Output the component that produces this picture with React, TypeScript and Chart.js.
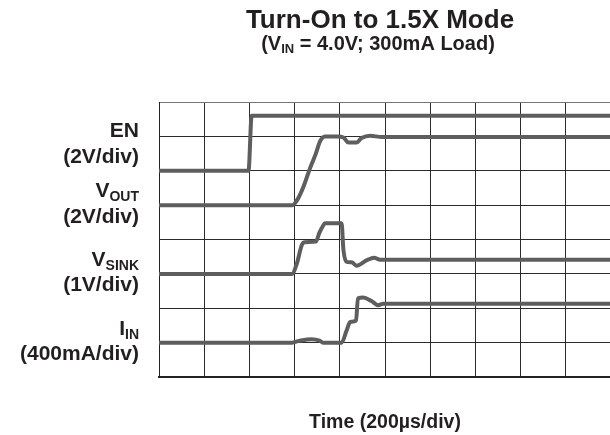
import { useEffect, useRef } from 'react';
import { Chart, registerables } from 'chart.js';

Chart.register(...registerables);

// Time axis in divisions (200 µs/div), 10 divisions
const X_MIN = 0;
const X_MAX = 10;
// Vertical axis in divisions, 8 divisions
const Y_MIN = 0;
const Y_MAX = 8;

// EN trace (divisions)
const EN_T = [0, 1.98, 2.05, 10];
const EN_V = [6.0, 6.0, 7.6, 7.6];

// VOUT trace
const VOUT_T = [0, 2.95, 3.08, 3.2, 3.34, 3.47, 3.56, 3.67, 3.95, 4.08, 4.19, 4.37, 4.48, 4.67, 4.93, 10];
const VOUT_V = [5.0, 5.0, 5.2, 5.55, 6.07, 6.5, 6.85, 7.0, 7.0, 6.97, 6.82, 6.82, 6.95, 7.02, 6.98, 6.98];

// VSINK trace
const VSINK_T = [0, 2.94, 3.05, 3.16, 3.22, 3.47, 3.55, 3.63, 3.67, 4.04, 4.08, 4.15, 4.26, 4.37, 4.6, 4.76, 4.89, 10];
const VSINK_V = [3.0, 3.0, 3.3, 3.84, 3.92, 3.94, 4.2, 4.4, 4.47, 4.47, 3.7, 3.35, 3.34, 3.24, 3.4, 3.47, 3.41, 3.41];

// IIN trace
const IIN_T = [0, 2.94, 3.1, 3.38, 3.55, 3.63, 4.04, 4.15, 4.23, 4.36, 4.4, 4.52, 4.7, 4.85, 4.96, 10];
const IIN_V = [1.0, 1.0, 1.05, 1.1, 1.06, 1.0, 1.0, 1.35, 1.6, 1.64, 2.29, 2.31, 2.21, 2.09, 2.13, 2.13];

// Text
const TITLE = 'Turn-On to 1.5X Mode';
const SUBTITLE = [
  { t: '(V', sub: false },
  { t: 'IN', sub: true },
  { t: ' = 4.0V; 300mA Load)', sub: false },
];
const X_LABEL = 'Time (200µs/div)';
const CHANNEL_NAMES = [
  [{ t: 'EN', sub: false }],
  [{ t: 'V', sub: false }, { t: 'OUT', sub: true }],
  [{ t: 'V', sub: false }, { t: 'SINK', sub: true }],
  [{ t: 'I', sub: false }, { t: 'IN', sub: true }],
];
const CHANNEL_SCALES = ['(2V/div)', '(2V/div)', '(1V/div)', '(400mA/div)'];

const FONT = "'Liberation Sans', Arial, Helvetica, sans-serif";
const TEXT_COLOR = '#231f20';
const TRACE_COLOR = '#5e5e5e';

const toPoints = (t: number[], v: number[]) => t.map((x, i) => ({ x, y: v[i] }));

type Seg = { t: string; sub: boolean };

function drawRich(
  ctx: CanvasRenderingContext2D,
  segs: Seg[],
  x: number,
  y: number,
  size: number,
  subSize: number,
  subDy: number,
  align: 'left' | 'right' | 'center'
) {
  const widths = segs.map((s) => {
    ctx.font = `bold ${s.sub ? subSize : size}px ${FONT}`;
    return ctx.measureText(s.t).width;
  });
  const total = widths.reduce((a, b) => a + b, 0);
  let cx = align === 'left' ? x : align === 'right' ? x - total : x - total / 2;
  ctx.textAlign = 'left';
  ctx.textBaseline = 'alphabetic';
  segs.forEach((s, i) => {
    ctx.font = `bold ${s.sub ? subSize : size}px ${FONT}`;
    ctx.fillText(s.t, cx, y + (s.sub ? subDy : 0));
    cx += widths[i];
  });
}

const textPlugin = {
  id: 'scopeText',
  afterDraw(chart: any) {
    const ctx: CanvasRenderingContext2D = chart.ctx;
    const area = chart.chartArea;
    const cx = (area.left + area.right) / 2;
    ctx.save();
    ctx.fillStyle = TEXT_COLOR;
    // Title
    ctx.font = `bold 26px ${FONT}`;
    ctx.textAlign = 'center';
    ctx.textBaseline = 'alphabetic';
    ctx.fillText(TITLE, cx - 5, 28);
    drawRich(ctx, SUBTITLE, cx - 7, 50, 20, 13, 3, 'center');
    // X label
    ctx.font = `bold 19.5px ${FONT}`;
    ctx.textAlign = 'center';
    ctx.fillText(X_LABEL, cx, 428);
    // Channel labels
    const nameY = [137, 197, 266, 335];
    const scaleY = [163, 223, 291, 360];
    const rx = 139;
    CHANNEL_NAMES.forEach((segs, i) => {
      drawRich(ctx, segs, rx, nameY[i], 21, 14, 4, 'right');
      ctx.font = `bold 21px ${FONT}`;
      ctx.textAlign = 'right';
      ctx.fillText(CHANNEL_SCALES[i], rx, scaleY[i]);
    });
    ctx.restore();
  },
};

export default function App() {
  const ref = useRef<HTMLCanvasElement | null>(null);
  useEffect(() => {
    if (!ref.current) return;
    const ds = (t: number[], v: number[]) => ({
      data: toPoints(t, v),
      borderColor: TRACE_COLOR,
      borderWidth: 4,
      pointRadius: 0,
      fill: false,
      cubicInterpolationMode: 'monotone' as const,
      borderJoinStyle: 'round' as const,
      borderCapStyle: 'round' as const,
    });
    const chart = new Chart(ref.current, {
      type: 'line',
      data: {
        datasets: [ds(EN_T, EN_V), ds(VOUT_T, VOUT_V), ds(VSINK_T, VSINK_V), ds(IIN_T, IIN_V)],
      },
      options: {
        responsive: false,
        animation: false,
        devicePixelRatio: 1,
        layout: { padding: { left: 159, top: 102, right: 1, bottom: 58 } },
        plugins: { legend: { display: false }, tooltip: { enabled: false }, title: { display: false } },
        scales: {
          x: {
            type: 'linear',
            min: X_MIN,
            max: X_MAX,
            ticks: { display: false, stepSize: 1 },
            grid: { color: '#2b2b2b', lineWidth: 1, drawTicks: false },
            border: { color: '#222', width: 2 },
          },
          y: {
            type: 'linear',
            min: Y_MIN,
            max: Y_MAX,
            ticks: { display: false, stepSize: 1 },
            grid: { color: (c: any) => (c.tick && c.tick.value === Y_MAX ? '#777' : '#2b2b2b'), lineWidth: 1, drawTicks: false },
            border: { color: '#222', width: 1 },
          },
        },
      },
      plugins: [textPlugin],
    });
    return () => chart.destroy();
  }, []);
  return (
    <div
      style={{
        position: 'fixed',
        left: 0,
        top: 0,
        width: 610,
        height: 435,
        overflow: 'hidden',
        background: '#ffffff',
      }}
    >
      <canvas ref={ref} width={612} height={435} style={{ display: 'block', width: 612, height: 435 }} />
    </div>
  );
}
